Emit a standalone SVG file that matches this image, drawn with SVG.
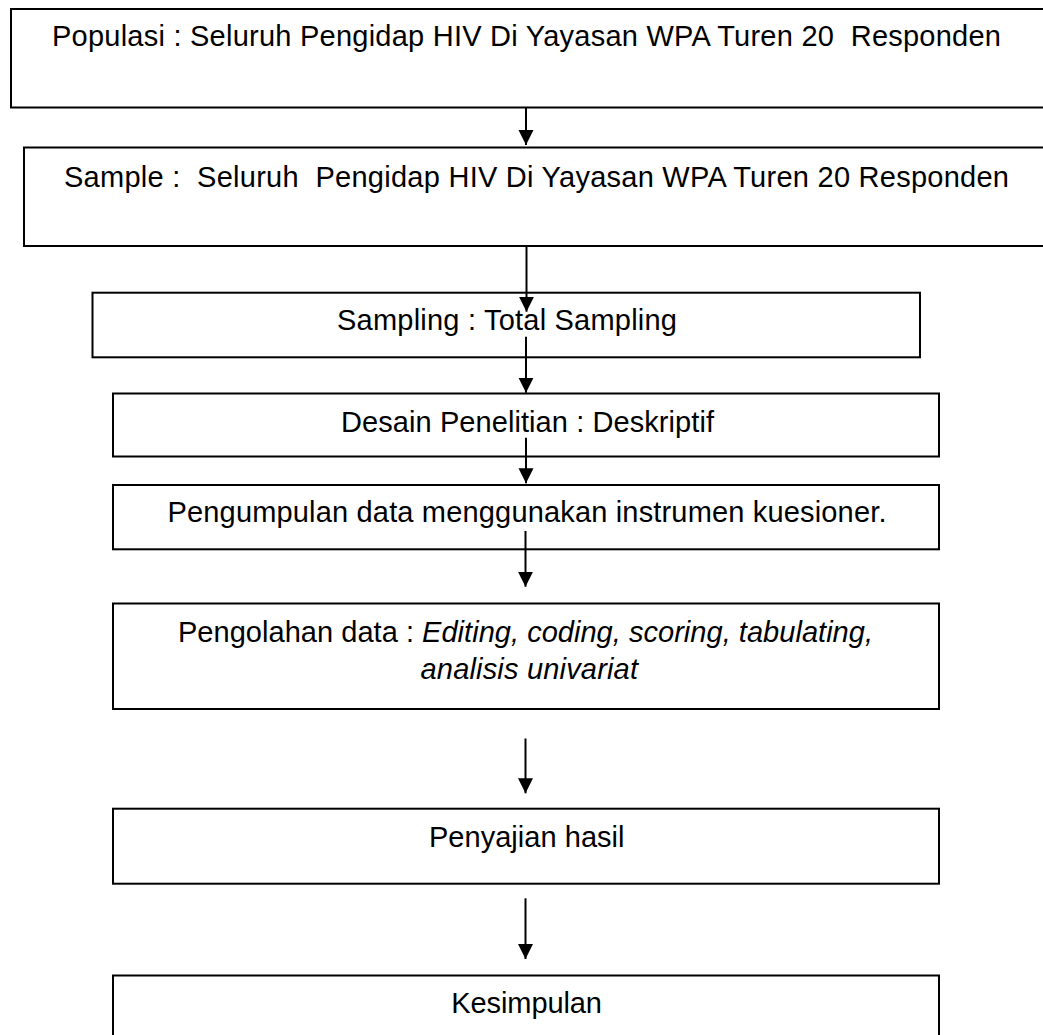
<svg xmlns="http://www.w3.org/2000/svg" width="1043" height="1035" viewBox="0 0 1043 1035">
<style>
.box{fill:none;stroke:#000;stroke-width:2}
.t{font-family:"Liberation Sans",Arial,sans-serif;font-size:29px;fill:#000;white-space:pre}
.it{font-style:italic}
.conn{stroke:#000;stroke-width:2;fill:none}
</style>
<defs>
<marker id="ah" markerUnits="userSpaceOnUse" markerWidth="16" markerHeight="16" viewBox="0 0 16 16" refX="15" refY="8" orient="auto">
<path d="M0,0.5 L15,8 L0,15.5 Z" fill="#000"/>
</marker>
</defs>
<rect width="1043" height="1035" fill="#fff"/>
<g id="populasi">
<rect class="box" x="11" y="9" width="1045" height="98.5"/>
<text class="t" x="52" y="45.5" textLength="949" lengthAdjust="spacing" xml:space="preserve">Populasi : Seluruh Pengidap HIV Di Yayasan WPA Turen 20  Responden</text>
</g>
<g id="sample">
<rect class="box" x="24" y="147.5" width="1035" height="98.5"/>
<text class="t" x="64" y="186.5" textLength="945" lengthAdjust="spacing" xml:space="preserve">Sample :  Seluruh  Pengidap HIV Di Yayasan WPA Turen 20 Responden</text>
</g>
<g id="sampling">
<rect class="box" x="92.5" y="292.7" width="827.5" height="64.6"/>
<text class="t" x="337" y="330" textLength="340" lengthAdjust="spacing">Sampling : Total Sampling</text>
</g>
<g id="desain">
<rect class="box" x="113" y="393.5" width="826" height="63"/>
<text class="t" x="341" y="431.5" textLength="373" lengthAdjust="spacing">Desain Penelitian : Deskriptif</text>
</g>
<g id="pengumpulan">
<rect class="box" x="113" y="485" width="826" height="64.3"/>
<text class="t" x="167.5" y="521.5" textLength="719" lengthAdjust="spacing">Pengumpulan data menggunakan instrumen kuesioner.</text>
</g>
<g id="pengolahan">
<rect class="box" x="113" y="603.5" width="826" height="105.5"/>
<text class="t" x="178" y="641.5" textLength="695" lengthAdjust="spacing" xml:space="preserve">Pengolahan data : <tspan class="it">Editing, coding, scoring, tabulating,</tspan></text>
<text class="t it" x="420.5" y="679.3" textLength="217.5" lengthAdjust="spacing">analisis univariat</text>
</g>
<g id="penyajian">
<rect class="box" x="113" y="808.7" width="826" height="75"/>
<text class="t" x="429" y="847.3" textLength="195.5" lengthAdjust="spacing">Penyajian hasil</text>
</g>
<g id="kesimpulan">
<rect class="box" x="113" y="975.5" width="826" height="70"/>
<text class="t" x="451.3" y="1013.3" textLength="150.7" lengthAdjust="spacing">Kesimpulan</text>
</g>
<g id="connectors">
<line class="conn" x1="526" y1="107.5" x2="526" y2="145" marker-end="url(#ah)"/>
<line class="conn" x1="526.5" y1="246" x2="526.5" y2="311.7" marker-end="url(#ah)"/>
<line class="conn" x1="526" y1="336.7" x2="526" y2="392.7" marker-end="url(#ah)"/>
<line class="conn" x1="526" y1="437.7" x2="526" y2="483.3" marker-end="url(#ah)"/>
<line class="conn" x1="525.5" y1="531" x2="525.5" y2="586.7" marker-end="url(#ah)"/>
<line class="conn" x1="525.5" y1="738.5" x2="525.5" y2="793.3" marker-end="url(#ah)"/>
<line class="conn" x1="525.5" y1="898.3" x2="525.5" y2="959" marker-end="url(#ah)"/>
</g>
</svg>
